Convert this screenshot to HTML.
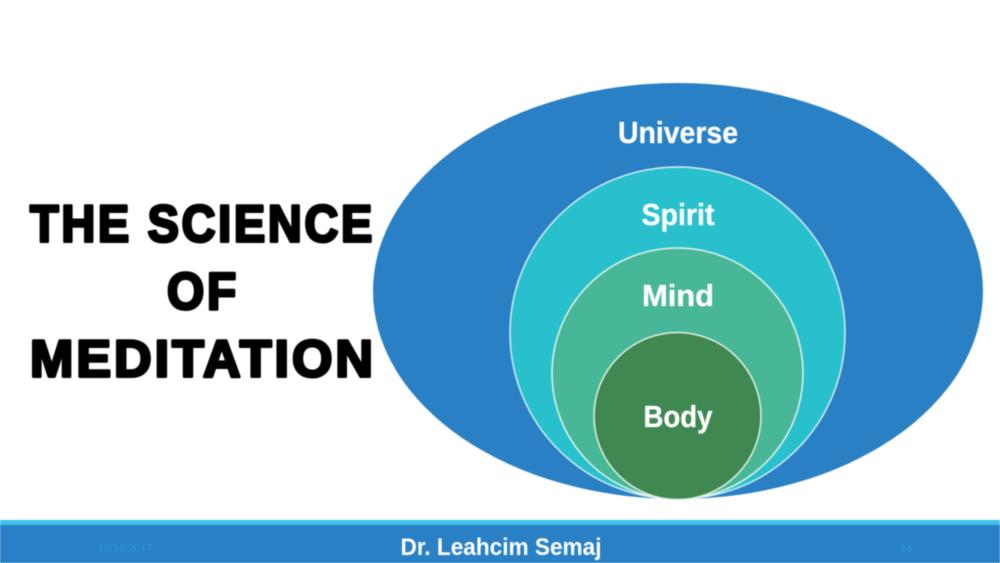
<!DOCTYPE html>
<html>
<head>
<meta charset="utf-8">
<style>
html,body{margin:0;padding:0;background:#fff;width:1000px;height:563px;overflow:hidden}
svg{display:block;filter:blur(.4px)}
text{font-family:"Liberation Sans",sans-serif;font-weight:bold}
</style>
</head>
<body>
<svg width="1000" height="563" viewBox="0 0 1000 563" xmlns="http://www.w3.org/2000/svg">
<rect width="1000" height="563" fill="#fff"/>
<ellipse cx="678" cy="291" rx="305" ry="208" fill="#2980c4"/>
<ellipse cx="677.5" cy="333" rx="167.5" ry="166" fill="#27c0cc" stroke="#d5eef5" stroke-width="1.5"/>
<ellipse cx="677.5" cy="373.5" rx="125.5" ry="125.5" fill="#48b797" stroke="#e2f3ec" stroke-width="1.5"/>
<circle cx="677.5" cy="416" r="83.5" fill="#408852" stroke="#e2f0e4" stroke-width="1.5"/>
<g fill="#fff" stroke="#fff" stroke-width=".3" text-anchor="middle" font-size="31">
<text x="678" y="143" textLength="120" lengthAdjust="spacingAndGlyphs">Universe</text>
<text x="678" y="225" textLength="73" lengthAdjust="spacingAndGlyphs">Spirit</text>
<text x="678" y="306" textLength="72" lengthAdjust="spacingAndGlyphs">Mind</text>
<text x="678" y="427" textLength="69" lengthAdjust="spacingAndGlyphs">Body</text>
</g>
<g fill="#000" stroke="#000" stroke-width="3" stroke-linejoin="round" font-size="52" letter-spacing="3">
<text x="30" y="241.5" textLength="345" lengthAdjust="spacingAndGlyphs">THE SCIENCE</text>
<text x="167" y="309" textLength="72" lengthAdjust="spacingAndGlyphs">OF</text>
<text x="30" y="376.5" textLength="346" lengthAdjust="spacingAndGlyphs">MEDITATION</text>
</g>
<rect x="0" y="520" width="1000" height="43" fill="#2980c4"/>
<rect x="0" y="520" width="1000" height="5" fill="#3fc0e8"/>
<text x="501" y="555" fill="#fff" font-size="24" text-anchor="middle" textLength="201" lengthAdjust="spacingAndGlyphs">Dr. Leahcim Semaj</text>
<text x="98" y="551" fill="#2b9ad6" font-size="10" textLength="54" lengthAdjust="spacingAndGlyphs" style="font-weight:normal">10/18/2017</text>
<text x="899" y="552" fill="#2b9ad6" font-size="10" textLength="13" lengthAdjust="spacingAndGlyphs" style="font-weight:normal">34</text>
</svg>
</body>
</html>
